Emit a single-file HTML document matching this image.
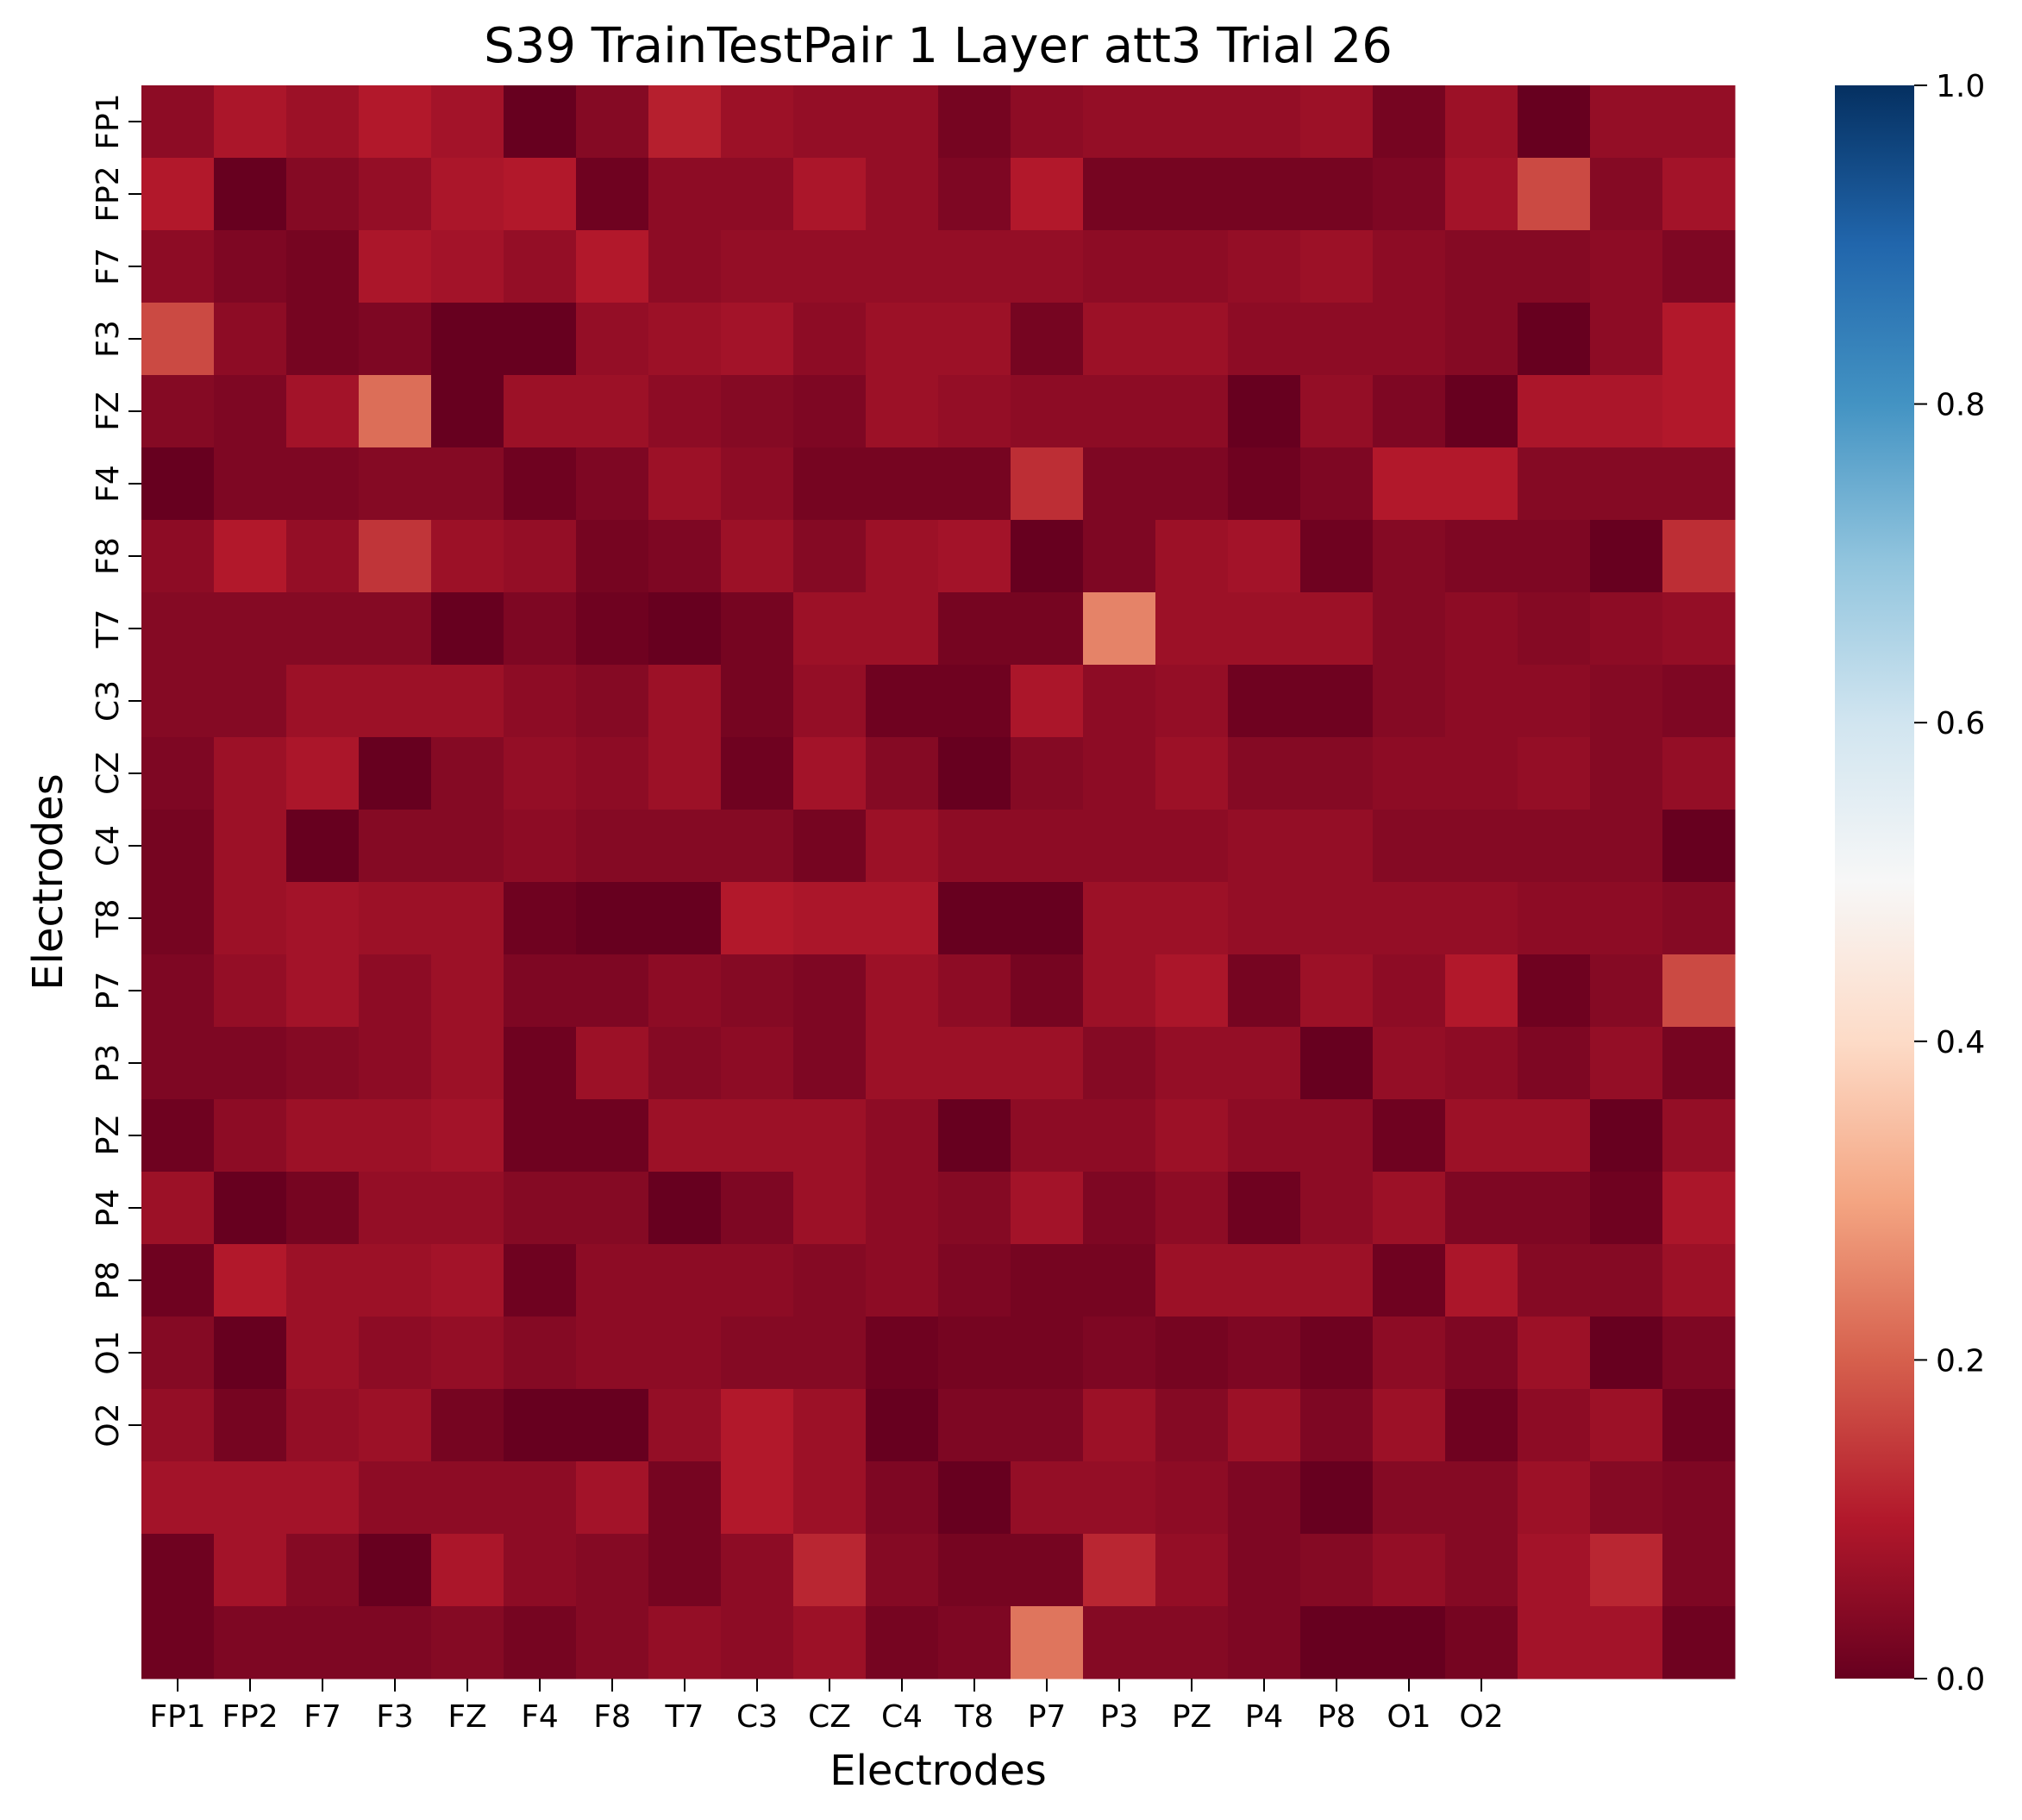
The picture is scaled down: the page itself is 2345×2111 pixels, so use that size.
<!DOCTYPE html>
<html><head><meta charset="utf-8"><style>html,body{margin:0;padding:0;background:#fff}svg{display:block}</style></head>
<body>
<svg id="chart" width="2345" height="2111" xmlns="http://www.w3.org/2000/svg" font-family="'DejaVu Sans','Liberation Sans',sans-serif">
<defs><linearGradient id="cbg" x1="0" y1="1" x2="0" y2="0">
<stop offset="0" stop-color="#67001f"/><stop offset="0.1" stop-color="#b2182b"/><stop offset="0.2" stop-color="#d6604d"/><stop offset="0.3" stop-color="#f4a582"/><stop offset="0.4" stop-color="#fddbc7"/><stop offset="0.5" stop-color="#f7f7f7"/><stop offset="0.6" stop-color="#d1e5f0"/><stop offset="0.7" stop-color="#92c5de"/><stop offset="0.8" stop-color="#4393c3"/><stop offset="0.9" stop-color="#2166ac"/><stop offset="1" stop-color="#053061"/></linearGradient></defs>
<text x="1088" y="72" font-size="56" text-anchor="middle">S39 TrainTestPair 1 Layer att3 Trial 26</text>
<g id="cells"></g>
<g id="axes"></g>
<text x="1088" y="2070" font-size="48" text-anchor="middle">Electrodes</text>
<text transform="translate(72,1023) rotate(-90)" font-size="48" text-anchor="middle">Electrodes</text>
<rect x="2128" y="99" width="92" height="1848" fill="url(#cbg)"/>
<g id="cbar"></g>
</svg>
<script>
const tickLabels = ["FP1","FP2","F7","F3","FZ","F4","F8","T7","C3","CZ","C4","T8","P7","P3","PZ","P4","P8","O1","O2"];
const cbarTicks = [0.0,0.2,0.4,0.6,0.8,1.0];
const values = [
[0.05,0.09,0.07,0.1,0.08,0.0,0.04,0.11,0.07,0.06,0.06,0.02,0.05,0.06,0.06,0.06,0.07,0.02,0.07,0.0,0.06,0.06],
[0.1,0.0,0.04,0.06,0.09,0.1,0.01,0.05,0.05,0.09,0.06,0.03,0.1,0.02,0.02,0.02,0.02,0.03,0.08,0.17,0.04,0.08],
[0.05,0.03,0.02,0.09,0.08,0.06,0.1,0.05,0.06,0.06,0.06,0.06,0.06,0.05,0.05,0.06,0.07,0.05,0.04,0.04,0.05,0.03],
[0.17,0.05,0.02,0.03,0.0,0.0,0.06,0.07,0.08,0.05,0.07,0.07,0.02,0.07,0.07,0.05,0.05,0.05,0.04,0.0,0.05,0.1],
[0.04,0.03,0.08,0.22,0.0,0.07,0.07,0.05,0.04,0.03,0.07,0.06,0.05,0.05,0.05,0.0,0.06,0.03,0.0,0.09,0.09,0.1],
[0.0,0.03,0.03,0.04,0.04,0.01,0.03,0.07,0.05,0.02,0.02,0.02,0.13,0.03,0.03,0.01,0.03,0.1,0.1,0.04,0.04,0.04],
[0.05,0.1,0.06,0.14,0.07,0.06,0.02,0.03,0.07,0.04,0.07,0.08,0.0,0.03,0.07,0.08,0.01,0.04,0.03,0.03,0.0,0.13],
[0.04,0.04,0.04,0.04,0.0,0.03,0.01,0.0,0.02,0.07,0.07,0.02,0.02,0.25,0.07,0.07,0.07,0.04,0.05,0.04,0.05,0.06],
[0.04,0.04,0.07,0.07,0.07,0.05,0.04,0.07,0.02,0.06,0.01,0.01,0.09,0.05,0.06,0.01,0.01,0.04,0.05,0.05,0.04,0.03],
[0.03,0.07,0.09,0.0,0.04,0.06,0.05,0.07,0.01,0.08,0.04,0.0,0.04,0.05,0.07,0.04,0.04,0.05,0.05,0.06,0.04,0.06],
[0.02,0.07,0.0,0.04,0.04,0.05,0.04,0.04,0.04,0.02,0.07,0.05,0.05,0.05,0.05,0.06,0.06,0.04,0.04,0.04,0.04,0.0],
[0.02,0.07,0.08,0.07,0.07,0.01,0.0,0.0,0.1,0.09,0.09,0.0,0.0,0.07,0.07,0.06,0.06,0.06,0.06,0.05,0.05,0.04],
[0.03,0.06,0.08,0.05,0.07,0.03,0.03,0.05,0.04,0.03,0.07,0.05,0.02,0.07,0.09,0.02,0.07,0.05,0.1,0.01,0.04,0.17],
[0.03,0.03,0.04,0.05,0.07,0.01,0.07,0.04,0.05,0.03,0.07,0.07,0.07,0.04,0.06,0.06,0.0,0.06,0.05,0.03,0.06,0.02],
[0.01,0.05,0.07,0.07,0.08,0.01,0.01,0.07,0.07,0.07,0.05,0.0,0.05,0.05,0.07,0.05,0.05,0.01,0.07,0.07,0.0,0.06],
[0.07,0.0,0.02,0.06,0.06,0.04,0.04,0.0,0.03,0.07,0.05,0.04,0.08,0.03,0.05,0.01,0.05,0.07,0.03,0.03,0.01,0.09],
[0.01,0.1,0.07,0.07,0.08,0.01,0.05,0.05,0.05,0.04,0.05,0.03,0.02,0.02,0.07,0.07,0.07,0.01,0.09,0.04,0.04,0.07],
[0.04,0.0,0.07,0.05,0.06,0.04,0.05,0.05,0.04,0.04,0.01,0.02,0.02,0.03,0.02,0.03,0.01,0.05,0.03,0.07,0.0,0.03],
[0.06,0.02,0.06,0.07,0.02,0.0,0.0,0.06,0.1,0.07,0.0,0.03,0.03,0.07,0.04,0.07,0.03,0.07,0.01,0.05,0.07,0.01],
[0.08,0.08,0.08,0.05,0.05,0.05,0.08,0.02,0.1,0.07,0.03,0.0,0.06,0.06,0.05,0.03,0.0,0.04,0.04,0.07,0.04,0.03],
[0.01,0.08,0.04,0.0,0.09,0.05,0.04,0.02,0.05,0.12,0.04,0.02,0.02,0.12,0.06,0.03,0.04,0.06,0.04,0.08,0.12,0.03],
[0.01,0.03,0.03,0.03,0.04,0.02,0.04,0.06,0.05,0.07,0.02,0.03,0.23,0.04,0.04,0.03,0.0,0.0,0.02,0.08,0.08,0.01]
];
const NS="http://www.w3.org/2000/svg";
const X0=164,Y0=99,W=1848,H=1848,N=values.length,C=W/N;
const xPos=i=>X0+i*C, yPos=i=>Y0+i*C;
const cbY=v=>Y0+H-v*H;
const stops=[[103,0,31],[178,24,43],[214,96,77],[244,165,130],[253,219,199],[247,247,247],[209,229,240],[146,197,222],[67,147,195],[33,102,172],[5,48,97]];
function cmap(v){v=Math.max(0,Math.min(1,v));const t=v*10,i=Math.min(9,Math.floor(t)),f=t-i;const a=stops[i],b=stops[i+1];
return `rgb(${Math.round(a[0]+(b[0]-a[0])*f)},${Math.round(a[1]+(b[1]-a[1])*f)},${Math.round(a[2]+(b[2]-a[2])*f)})`;}
function mk(tag,attrs,parent){const e=document.createElementNS(NS,tag);for(const k in attrs)e.setAttribute(k,attrs[k]);parent.appendChild(e);return e;}
const cells=document.getElementById('cells');
values.forEach((row,r)=>row.forEach((v,c)=>{
 const e=mk('rect',{x:xPos(c),y:yPos(r),width:C+0.5,height:C+0.5,fill:cmap(v)},cells);
 
 
}));
const axes=document.getElementById('axes');
tickLabels.forEach((lab,i)=>{
 const cx=xPos(i)+C/2, cy=yPos(i)+C/2;
 const t1=mk('line',{x1:cx,y1:Y0+H,x2:cx,y2:Y0+H+15,stroke:'#000','stroke-width':2},axes);
 
 
 const l1=mk('text',{x:cx,y:Y0+H+56,'font-size':36,'text-anchor':'middle'},axes);l1.textContent=lab;
 
 
 const t2=mk('line',{x1:X0-15,y1:cy,x2:X0,y2:cy,stroke:'#000','stroke-width':2},axes);
 
 
 const l2=mk('text',{transform:`translate(${X0-27},${cy}) rotate(-90)`,'font-size':36,'text-anchor':'middle'},axes);l2.textContent=lab;
 
 
});
const cb=document.getElementById('cbar');
cbarTicks.forEach(v=>{
 const y=cbY(v);
 const t=mk('line',{x1:2220,y1:y,x2:2235,y2:y,stroke:'#000','stroke-width':2},cb);
 
 
 const l=mk('text',{x:2245,y:y+13,'font-size':36},cb);l.textContent=v.toFixed(1);
 
 
});
</script>
</body></html>
